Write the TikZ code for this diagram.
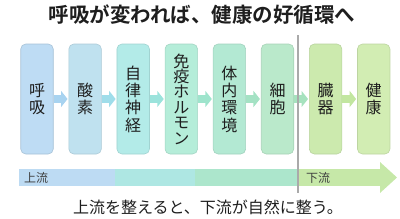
\documentclass[tikz,border=0pt]{standalone}
\usepackage{fontspec}
\setmainfont{Noto Sans CJK JP}[BoldFont={Noto Sans CJK JP Bold}]
\usetikzlibrary{arrows.meta,positioning}
\definecolor{ink}{HTML}{1E1E1E}
\definecolor{fillA}{HTML}{BEDCF4}
\definecolor{fillB}{HTML}{BFE1EF}
\definecolor{fillC}{HTML}{B3EBE8}
\definecolor{fillD}{HTML}{B5EDD9}
\definecolor{fillE}{HTML}{B3E9D3}
\definecolor{fillF}{HTML}{BAE9CB}
\definecolor{fillG}{HTML}{CCEAAE}
\definecolor{fillH}{HTML}{D2EDB3}
\definecolor{arrowA}{HTML}{A8D3F0}
\definecolor{arrowB}{HTML}{9FDDEA}
\definecolor{arrowC}{HTML}{9BE3DC}
\definecolor{arrowD}{HTML}{9EE4CC}
\definecolor{arrowE}{HTML}{A4E2C4}
\definecolor{arrowF}{HTML}{A6E2BE}
\definecolor{arrowG}{HTML}{C2E6A0}
\definecolor{barA}{HTML}{BDDBF3}
\definecolor{barB}{HTML}{AEE7E3}
\definecolor{barC}{HTML}{ACE6CC}
\definecolor{barD}{HTML}{C6E8A8}
\definecolor{divgray}{HTML}{AAAAAA}

\begin{document}
\begin{tikzpicture}[
  x=1pt,y=-1pt,
  node distance=15pt,
  stage/.style={
    rectangle,
    rounded corners=5pt,
    line width=0.6pt,
    align=center,
    inner sep=0pt,
    minimum width=32.5pt,
    minimum height=110pt,
    text=ink,
    font=\fontsize{16}{17.3}\selectfont
  },
  flow/.style={line width=8.5pt,-{Triangle[length=6.5pt 0,width=16pt 0]},shorten >=1pt},
  barlabel/.style={anchor=west,inner sep=0pt,text=ink!85,font=\fontsize{12}{14}\selectfont},
  divider/.style={draw=divgray,line width=1.5pt}
]
\useasboundingbox (0,0) rectangle (400,218);
\node[text=ink,font=\bfseries\fontsize{20.5}{24}\selectfont] (title) at (202,15) {呼吸が変われば、健康の好循環へ};
\node[stage,fill=fillA,draw=fillA!88!black] (breath) at (37,99) {呼\\吸};
\node[stage,fill=fillB,draw=fillB!90!black,right=of breath] (oxygen) {酸\\素};
\node[stage,fill=fillC,draw=fillC!90!black,right=of oxygen] (autonomic) {自\\律\\神\\経};
\node[stage,fill=fillD,draw=fillD!90!black,right=of autonomic,
  font=\fontsize{16}{15.4}\selectfont] (immune) {免\\疫\\ホ\\ル\\モ\\ン};
\node[stage,fill=fillE,draw=fillE!90!black,right=of immune] (internal) {体\\内\\環\\境};
\node[stage,fill=fillF,draw=fillF!90!black,right=of internal] (cell) {細\\胞};
\node[stage,fill=fillG,draw=fillG!90!black,right=of cell] (organ) {臓\\器};
\node[stage,fill=fillH,draw=fillH!90!black,right=of organ] (health) {健\\康};
\draw[flow,arrowA] (breath) -- (oxygen);
\draw[flow,arrowB] (oxygen) -- (autonomic);
\draw[flow,arrowC] (autonomic) -- (immune);
\draw[flow,arrowD] (immune) -- (internal);
\draw[flow,arrowE] (internal) -- (cell);
\draw[flow,arrowF] (cell) -- (organ);
\draw[flow,arrowG] (organ) -- (health);
% upstream / downstream bar
\fill[barA] (19,169) rectangle (115,186);
\fill[barB] (115,169) rectangle (195,186);
\fill[barC] (195,169) rectangle (298,186);
\fill[barD] (298,169) rectangle (380.5,186);
\fill[barD] (380,162) -- (397,177.5) -- (380,193) -- cycle;
\node[barlabel] (upstream) at (24,177.5) {上流};
\node[barlabel] (downstream) at (306,177.5) {下流};
\coordinate (divtop) at (298,35);
\coordinate (divbot) at (298,193);
\draw[divider] (divtop) -- (divbot);
\node[text=ink,font=\fontsize{16}{18}\selectfont] (note) at (208,207) {上流を整えると、下流が自然に整う。};
\end{tikzpicture}
\end{document}
